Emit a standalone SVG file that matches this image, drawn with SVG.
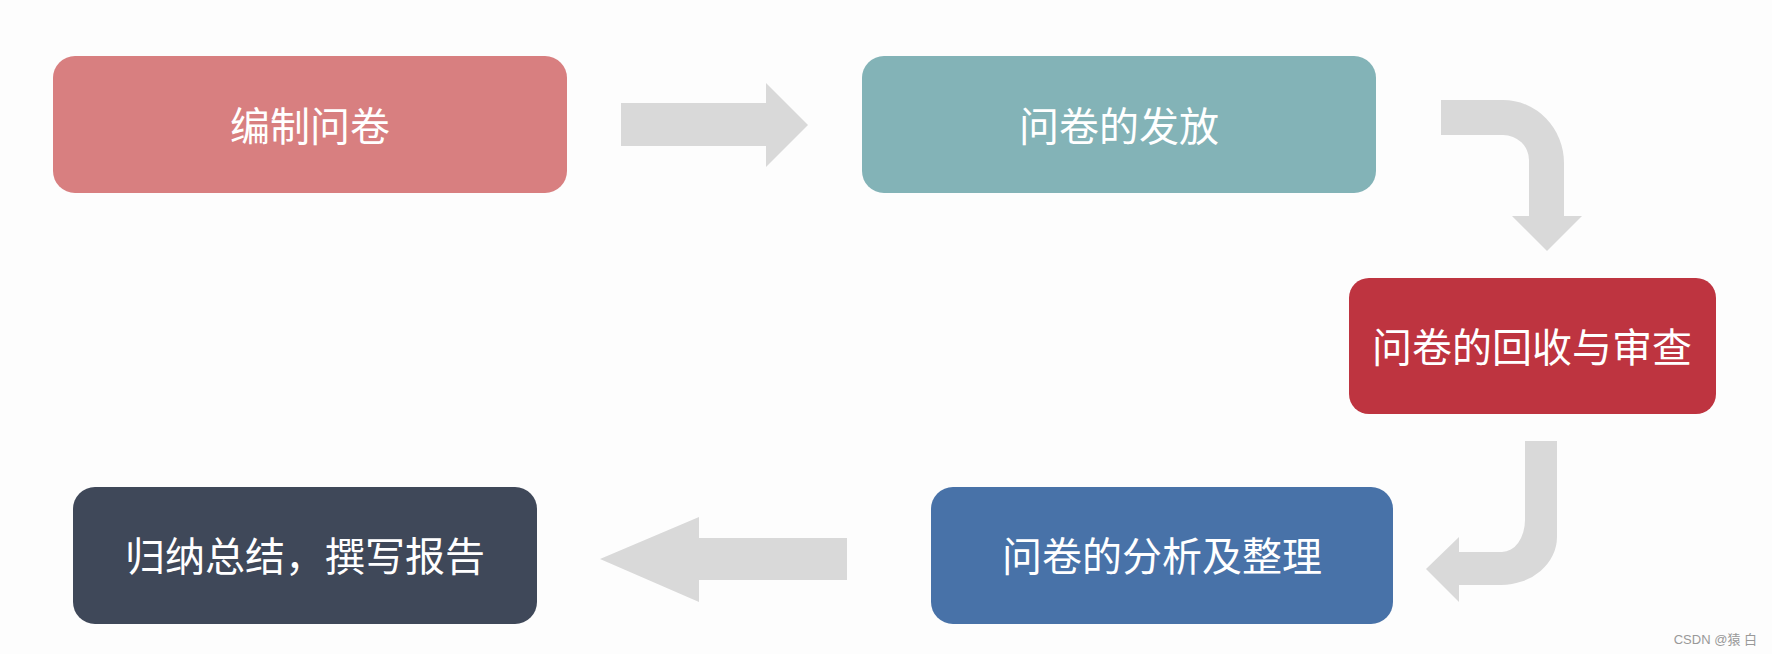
<svg xmlns="http://www.w3.org/2000/svg" width="1772" height="654" viewBox="0 0 1772 654">
<style>
.lbl{font-family:"Noto Sans CJK SC","Noto Sans",sans-serif;fill:#ffffff;text-anchor:middle;dominant-baseline:central}
.s40{font-size:40px}
.s45{font-size:40px}
.arr{fill:#d9d9d9}
</style>
<rect width="1772" height="654" fill="#fdfdfd"/>
<g id="connectors">
<polygon class="arr" points="621,103 766,103 766,83 808,125 766,167 766,146 621,146"/>
<path class="arr" d="M1441,100 L1503,100 A61,63 0 0 1 1564,163 L1564,216 L1582,216 L1547,251 L1512,216 L1529,216 L1529,160 A26,25 0 0 0 1503,135 L1441,135 Z"/>
<path class="arr" d="M1525,441 L1557,441 L1557,537 A56,48 0 0 1 1501,585 L1459,585 L1459,602 L1426,569 L1459,537 L1459,552 L1502,552 A23,32 0 0 0 1525,520 Z"/>
<polygon class="arr" points="847,538 699,538 699,517 600,559 699,602 699,580 847,580"/>
</g>
<g id="node1">
<rect x="53" y="56" width="514" height="137" rx="22" fill="#d87f80"/>
<text class="lbl s40" x="310" y="124">编制问卷</text>
</g>
<g id="node2">
<rect x="862" y="56" width="514" height="137" rx="22" fill="#83b3b7"/>
<text class="lbl s40" x="1119" y="124">问卷的发放</text>
</g>
<g id="node3">
<rect x="1349" y="278" width="367" height="136" rx="20" fill="#be3440"/>
<text class="lbl s45" x="1532" y="345">问卷的回收与审查</text>
</g>
<g id="node4">
<rect x="931" y="487" width="462" height="137" rx="22" fill="#4872a8"/>
<text class="lbl s45" x="1162" y="554">问卷的分析及整理</text>
</g>
<g id="node5">
<rect x="73" y="487" width="464" height="137" rx="22" fill="#3f4859"/>
<text class="lbl s40" x="305" y="554">归纳总结，撰写报告</text>
</g>
<text x="1757" y="644" font-family="'Liberation Sans','Noto Sans CJK SC',sans-serif" font-size="13" fill="#999999" text-anchor="end">CSDN @猿 白</text>
</svg>
